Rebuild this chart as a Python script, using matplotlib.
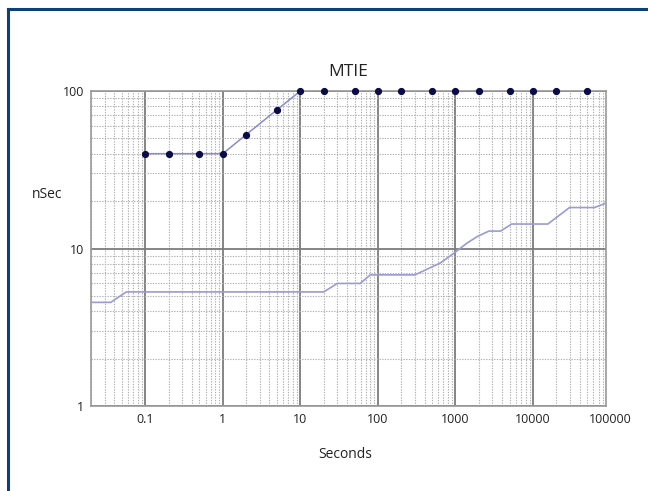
import numpy as np
import matplotlib.pyplot as plt
from matplotlib.lines import Line2D
from matplotlib.ticker import LogLocator, NullFormatter, FixedLocator, FixedFormatter

# mask (limit) points
mask_tau = [0.1, 0.2, 0.5, 1, 2, 5, 10, 20, 50, 100, 200, 500, 1000,
            2000, 5000, 10000, 20000, 50000]
mask_ns = [40, 40, 40, 40, 52.8, 76.0, 100, 100, 100, 100, 100, 100, 100,
           100, 100, 100, 100, 100]
mask_end = 86400

# measured MTIE
meas_tau = [0.02, 0.036, 0.057, 20, 30, 59, 80, 300, 640, 1000, 1400,
            1900, 2700, 3800, 5300, 15500, 29500, 62000, 86400]
meas_ns = [4.55, 4.55, 5.3, 5.3, 6.0, 6.0, 6.8, 6.8, 8.1, 9.5, 10.8,
           11.9, 12.9, 12.9, 14.3, 14.3, 18.2, 18.2, 19.4]

xticks = [0.1, 1, 10, 100, 1000, 10000]
xlabels = ['0.1', '1', '10', '100', '1000', '10000']
yticks = [1, 10, 100]
ylabels = ['1', '10', '100']

plt.rcParams['font.family'] = ['Open Sans', 'DejaVu Sans']

fig = plt.figure(figsize=(6.48, 4.91), dpi=100)
ax = fig.add_axes([91 / 648, 1 - 406 / 491, (605.7 - 91) / 648, (406 - 91) / 491])

ax.set_xscale('log')
ax.set_yscale('log')
ax.set_xlim(0.02, 86400)
ax.set_ylim(1, 100)

# grid
ax.xaxis.set_major_locator(FixedLocator(xticks))
ax.xaxis.set_major_formatter(FixedFormatter(xlabels))
ax.yaxis.set_major_locator(FixedLocator(yticks))
ax.yaxis.set_major_formatter(FixedFormatter(ylabels))
ax.xaxis.set_minor_locator(LogLocator(base=10, subs=np.arange(2, 10), numticks=20))
ax.yaxis.set_minor_locator(LogLocator(base=10, subs=np.arange(2, 10), numticks=20))
ax.xaxis.set_minor_formatter(NullFormatter())
ax.yaxis.set_minor_formatter(NullFormatter())
ax.grid(which='major', color='#7c7c7c', linewidth=1.3, linestyle='-')
ax.grid(which='minor', color='#b0b0b0', linewidth=0.8, linestyle=(0, (1.2, 1.2)))
ax.set_axisbelow(True)
ax.tick_params(which='both', length=0, labelsize=9, colors='#222222', pad=5)

for s in ax.spines.values():
    s.set_color('#9a9a9a')
    s.set_linewidth(1.2)

# lines
ax.plot(mask_tau + [mask_end], mask_ns + [mask_ns[-1]], color='#8a8ad0', lw=1.1, zorder=3)
ax.plot(mask_tau, mask_ns, linestyle='none', marker='o', ms=4.2, color='#0b0b4a', zorder=4,
        clip_on=False)
ax.plot(meas_tau, meas_ns, color='#9a9ad4', lw=1.2, zorder=3)

# extra label past the right edge
ax.annotate('100000', xy=(1e5, 0), xycoords=('data', 'axes fraction'),
            xytext=(0, -5), textcoords='offset points', ha='center', va='top',
            fontsize=9, color='#222222', annotation_clip=False)

ax.set_title('MTIE', fontsize=12.5, pad=11, color='#222222')
fig.text(47 / 648, 1 - 195 / 491, 'nSec', ha='center', va='center', fontsize=10, color='#222222')
fig.text(345 / 648, 1 - 454 / 491, 'Seconds', ha='center', va='center', fontsize=10, color='#222222')

# blue frame (left and top only)
fig.add_artist(Line2D([8 / 648, 8 / 648], [0, 1 - 9 / 491], color='#0d3f7a', lw=2.2,
                      transform=fig.transFigure))
fig.add_artist(Line2D([8 / 648, 1], [1 - 9 / 491, 1 - 9 / 491], color='#0d3f7a', lw=2.2,
                      transform=fig.transFigure))

fig.savefig('out.png', dpi=100)
